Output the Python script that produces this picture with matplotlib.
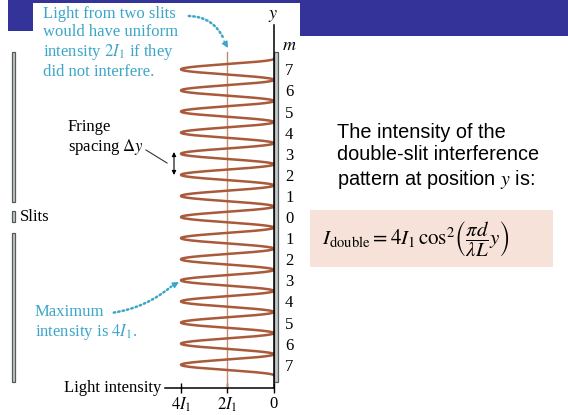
import matplotlib
matplotlib.use("Agg")
import matplotlib.pyplot as plt
import numpy as np
from matplotlib.patches import Rectangle, FancyArrowPatch

plt.rcParams["mathtext.fontset"] = "stix"
plt.rcParams["font.family"] = ["Liberation Serif", "DejaVu Serif"]

# fringe orders shown beside the screen, and intensity scale (units of I1)
orders = [7, 6, 5, 4, 3, 2, 1, 0, -1, -2, -3, -4, -5, -6, -7]
order_labels = [str(abs(m)) for m in orders]
peak_intensity = 4.0      # 4 I1 at a bright fringe
uniform_intensity = 2.0   # 2 I1 without interference
intensity_ticks = [4, 2, 0]
intensity_labels = [r"$4I_1$", r"$2I_1$", "0"]

W, H = 568, 415
fig = plt.figure(figsize=(W / 100, H / 100), dpi=100)
fig.patch.set_facecolor("white")

# background layer in pixel units for banner, screens and captions
bg = fig.add_axes([0, 0, 1, 1])
bg.set_xlim(0, W)
bg.set_ylim(H, 0)
bg.axis("off")

navy = "#333399"
cyan = "#3ca6c8"
brown = "#a95a3a"

bg.add_patch(Rectangle((8, 0), W - 8, 3, color=navy, lw=0))
bg.add_patch(Rectangle((8, 0), 25, 31, color=navy, lw=0))
bg.add_patch(Rectangle((300, 0), W - 300, 36, color=navy, lw=0))

# slit screen on the left and viewing screen on the right
bar_kw = dict(facecolor="#c4c8c8", edgecolor="#555a5a", lw=0.9)
for y0, y1 in [(52, 202), (211, 222), (233, 382)]:
    bg.add_patch(Rectangle((11.5, y0), 3.5, y1 - y0, **bar_kw))
bg.add_patch(Rectangle((274, 52), 4, 330, zorder=5, **bar_kw))

# intensity pattern axes
x0, x1, yb, yt = 164.7, 274, 388, 25
ax = fig.add_axes([x0 / W, (H - yb) / H, (x1 - x0) / W, (yb - yt) / H])
ax.patch.set_alpha(0)
ax.set_xlim(4.7, 0)
ax.set_ylim(-8.1, 9.1)

y = np.linspace(-7.5, 7.5, 1200)
intensity = peak_intensity * np.cos(np.pi * y) ** 2
ax.plot([uniform_intensity, uniform_intensity], [-8.1, 7.8], color="#c98a6c", lw=1.0)
ax.plot(intensity, y, color=brown, lw=1.8)

for s in ["left", "top"]:
    ax.spines[s].set_visible(False)
ax.spines["right"].set_linewidth(1.1)
ax.spines["bottom"].set_linewidth(1.1)
ax.set_xticks(intensity_ticks)
ax.set_xticklabels(intensity_labels, fontsize=12)
ax.tick_params(axis="x", direction="inout", length=7, width=1.0, pad=2)
ax.yaxis.tick_right()
ax.set_yticks(orders)
ax.set_yticklabels(order_labels, fontsize=12)
ax.tick_params(axis="y", length=0, pad=8)

# labels in pixel space
bg.text(273, 15, "$y$", fontsize=13, ha="center", va="center")
bg.text(289, 45, "$m$", fontsize=13, ha="center", va="center")
bg.text(161, 388, "Light intensity", fontsize=12, ha="right", va="center")
bg.text(20, 217, "Slits", fontsize=12, ha="left", va="center")
bg.text(68, 138, "Fringe\nspacing $\\Delta y$", fontsize=12, ha="left",
        va="center", linespacing=1.1)
bg.plot([146, 167], [150, 163], color="#333333", lw=0.8)
bg.annotate("", xy=(174, 152), xytext=(174, 175),
            arrowprops=dict(arrowstyle="<|-|>", color="black", lw=0.8,
                            mutation_scale=6, shrinkA=0, shrinkB=0))

bg.text(43, 43, "Light from two slits\nwould have uniform\n"
        "intensity $2I_1$ if they\ndid not interfere.",
        fontsize=12, color=cyan, ha="left", va="center", linespacing=1.18)
bg.text(35, 323, "Maximum\nintensity is $4I_1$.", fontsize=12, color=cyan,
        ha="left", va="center", linespacing=1.15)

# dotted pointers
bg.add_patch(FancyArrowPatch((186, 16), (225, 42), arrowstyle="-",
                             connectionstyle="arc3,rad=-0.35", color=cyan,
                             lw=1.8, linestyle=(0, (0.6, 1.2))))
bg.annotate("", xy=(228, 48), xytext=(224, 41),
            arrowprops=dict(arrowstyle="-|>", color=cyan, lw=1,
                            mutation_scale=9, shrinkA=0, shrinkB=0))
bg.add_patch(FancyArrowPatch((111, 313), (173, 285), arrowstyle="-",
                             connectionstyle="arc3,rad=0.15", color=cyan,
                             lw=1.8, linestyle=(0, (0.6, 1.2))))
bg.annotate("", xy=(179, 282), xytext=(172, 286),
            arrowprops=dict(arrowstyle="-|>", color=cyan, lw=1,
                            mutation_scale=9, shrinkA=0, shrinkB=0))

# right-hand explanation and formula
bg.text(337, 157, "The intensity of the\ndouble-slit interference\n"
        "pattern at position $y$ is:", fontsize=14.3, ha="left", va="center",
        family=["Liberation Sans", "DejaVu Sans"], linespacing=1.2)
bg.add_patch(Rectangle((310, 210), 243, 57, facecolor="#f7e2d9", lw=0))
bg.text(322, 239,
        r"$I_{\mathrm{double}} = 4I_1\,\cos^2\!\left(\dfrac{\pi d}{\lambda L}y\right)$",
        fontsize=15, ha="left", va="center")

fig.savefig("out.png", dpi=100)
